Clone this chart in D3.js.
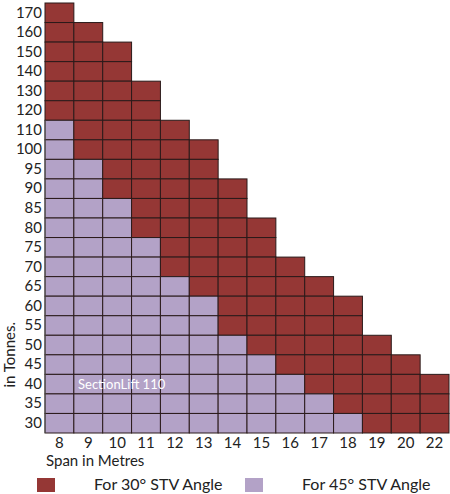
<!DOCTYPE html>
<html>
<head>
<meta charset="utf-8">
<script src="https://cdn.jsdelivr.net/npm/d3@7"></script>
<style>
  body { margin: 0; background: #fff; }
  text { font-family: Lato, "Open Sans", sans-serif; }
</style>
</head>
<body>
<div class="chart"></div>
<script>
// spans (columns) and loads (rows)
var spans = ["8", "9", "10", "11", "12", "13", "14", "15", "16", "17", "18", "19", "20", "22"];
var loads = [170, 160, 150, 140, 130, 120, 110, 100, 95, 90, 85, 80, 75, 70, 65, 60, 55, 50, 45, 40, 35, 30];
// highest load per span at 30 deg and 45 deg STV angle
var maxLoad30 = [170, 160, 150, 130, 110, 100, 90, 80, 70, 65, 60, 50, 45, 40];
var maxLoad45 = [110, 95, 85, 75, 65, 60, 50, 45, 40, 35, 30, null, null, null];

var legendItems = [
  {label: "For 30\u00b0 STV Angle", color: "#953735"},
  {label: "For 45\u00b0 STV Angle", color: "#b3a2c7"}
];

var margin = {top: 3, right: 1, bottom: 61, left: 45},
    width = 450 - margin.left - margin.right,
    height = 494 - margin.top - margin.bottom;

var svg = d3.select(".chart")
  .append("svg")
    .attr("width", 450)
    .attr("height", 494)
  .append("g")
    .attr("transform", "translate(" + margin.left + "," + margin.top + ")");

var x = d3.scaleBand().domain(spans).range([0, width]);
var y = d3.scaleBand().domain(loads).range([0, height]);

var cells = [];
spans.forEach(function(s, i) {
  loads.forEach(function(l) {
    if (l <= maxLoad30[i]) {
      cells.push({span: s, load: l, is45: maxLoad45[i] != null && l <= maxLoad45[i]});
    }
  });
});

svg.selectAll(".cell")
  .data(cells).enter()
  .append("rect")
    .attr("class", "cell")
    .attr("x", function(d) { return x(d.span); })
    .attr("y", function(d) { return y(d.load); })
    .attr("width", x.bandwidth())
    .attr("height", y.bandwidth())
    .style("fill", function(d) { return d.is45 ? legendItems[1].color : legendItems[0].color; })
    .style("stroke", "#2a1a1a")
    .style("stroke-width", 1);

// axes
var yAxis = svg.append("g")
  .call(d3.axisLeft(y).tickSize(0).tickPadding(3));
yAxis.select(".domain").remove();
yAxis.selectAll("text")
  .style("font-family", "Lato, 'Open Sans', sans-serif")
  .style("font-size", "15px")
  .style("fill", "#222");

var xAxis = svg.append("g")
  .attr("transform", "translate(0," + height + ")")
  .call(d3.axisBottom(x).tickSize(0).tickPadding(4));
xAxis.select(".domain").remove();
xAxis.selectAll("text")
  .style("font-family", "Lato, 'Open Sans', sans-serif")
  .style("font-size", "15px")
  .style("fill", "#222");

svg.append("line")
  .attr("x1", 0).attr("x2", 0)
  .attr("y1", y(loads[6])).attr("y2", height)
  .style("stroke", "#555")
  .style("stroke-width", 1);

svg.append("text")
  .attr("x", 33)
  .attr("y", y(40) + y.bandwidth() / 2)
  .attr("dy", "5px")
  .style("font-size", "13px")
  .style("fill", "#fff")
  .text("SectionLift 110");

svg.append("text")
  .attr("x", 1)
  .attr("y", height + 33)
  .style("font-size", "15px")
  .style("fill", "#222")
  .text("Span in Metres");

svg.append("text")
  .attr("transform", "translate(-30," + y(45) + ") rotate(-90)")
  .attr("text-anchor", "middle")
  .style("font-size", "15px")
  .style("fill", "#222")
  .text("in Tonnes.");

// legend
var lg = svg.selectAll(".legend")
  .data(legendItems).enter()
  .append("g")
    .attr("transform", function(d, i) { return "translate(" + (i * 208 - 8) + "," + (height + 45) + ")"; });

lg.append("rect")
  .attr("width", 18)
  .attr("height", 14)
  .style("fill", function(d) { return d.color; });

lg.append("text")
  .attr("x", 57)
  .attr("y", 12)
  .style("font-size", "16px")
  .style("fill", "#222")
  .text(function(d) { return d.label; });
</script>
</body>
</html>
